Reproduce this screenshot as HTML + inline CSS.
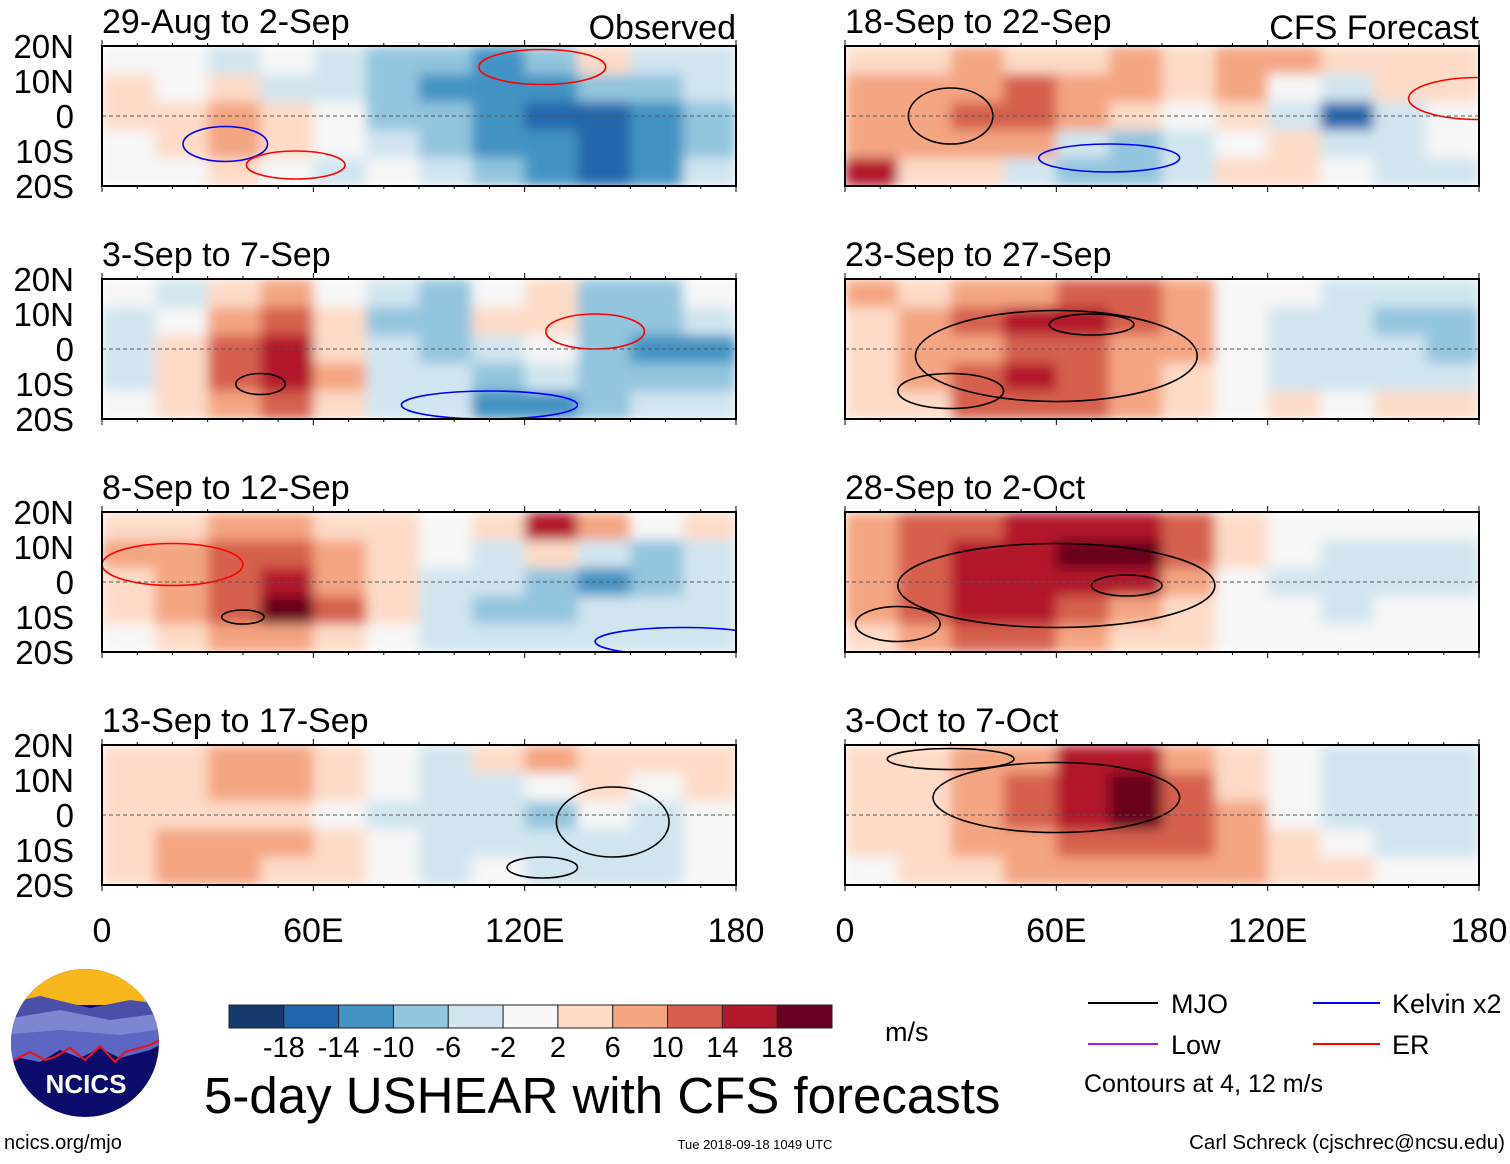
<!DOCTYPE html>
<html><head><meta charset="utf-8"><style>
body{margin:0;background:#fff;}
svg text{font-family:"Liberation Sans",sans-serif;}
</style></head><body>
<svg id="chart" width="1510" height="1159" viewBox="0 0 1510 1159" xmlns="http://www.w3.org/2000/svg">
<defs>
<filter id="bl" x="0" y="0" width="1" height="1"><feGaussianBlur stdDeviation="6" edgeMode="duplicate"/></filter>
</defs>
<g id="panels"></g>
<g id="logo">
<clipPath id="lc"><circle cx="85" cy="1043" r="74"/></clipPath>
<g clip-path="url(#lc)">
<rect x="0" y="960" width="170" height="170" fill="#0b0b6b"/>
<rect x="0" y="960" width="170" height="45" fill="#f7b61b"/>
<path d="M0 1005 L40 996 L90 1008 L130 1000 L170 1005 L170 1030 L0 1040Z" fill="#4a4fa8"/>
<path d="M0 1020 L60 1010 L110 1020 L170 1012 L170 1035 L0 1045Z" fill="#7d86d0"/>
<path d="M0 1035 L60 1030 L120 1035 L170 1028 L170 1040 L150 1050 L120 1058 L100 1048 L80 1058 L60 1050 L40 1062 L20 1058 L0 1062Z" fill="#5d66c3"/>
<path d="M10 1062 L30 1052 L45 1060 L55 1057 L70 1048 L85 1060 L100 1046 L115 1062 L125 1052 L150 1045 L170 1035" fill="none" stroke="#e11" stroke-width="2"/>
</g>
<text x="86" y="1093" font-size="26" font-weight="bold" fill="#fff" text-anchor="middle">NCICS</text>
</g>
<text x="4" y="1149" font-size="20">ncics.org/mjo</text>
<text x="755" y="1149" font-size="13" text-anchor="middle">Tue 2018-09-18 1049 UTC</text>
<text x="1505" y="1149" font-size="20.5" text-anchor="end">Carl Schreck (cjschrec@ncsu.edu)</text>
<text x="204" y="1113" font-size="51">5-day USHEAR with CFS forecasts</text>
<text x="885" y="1041" font-size="27">m/s</text>
<g id="cbar"></g>
<g>
<line x1="1088" y1="1003" x2="1158" y2="1003" stroke="#000" stroke-width="2"/><text x="1171" y="1013" font-size="27">MJO</text>
<line x1="1088" y1="1044" x2="1158" y2="1044" stroke="#a020f0" stroke-width="2"/><text x="1171" y="1054" font-size="27">Low</text>
<line x1="1313" y1="1003" x2="1380" y2="1003" stroke="#00f" stroke-width="2"/><text x="1392" y="1013" font-size="27">Kelvin x2</text>
<line x1="1313" y1="1044" x2="1380" y2="1044" stroke="#f00" stroke-width="2"/><text x="1392" y="1054" font-size="27">ER</text>
<text x="1084" y="1092" font-size="25">Contours at 4, 12 m/s</text>
</g>
</svg>
<script>
const panelTitles=["29-Aug to 2-Sep","3-Sep to 7-Sep","8-Sep to 12-Sep","13-Sep to 17-Sep","18-Sep to 22-Sep","23-Sep to 27-Sep","28-Sep to 2-Oct","3-Oct to 7-Oct"];
const latTicks=["20N","10N","0","10S","20S"];
const lonTicks=["0","60E","120E","180"];
const levels=[-18,-14,-10,-6,-2,2,6,10,14,18];
const colors=["#143a6c","#2166ac","#4393c3","#92c5de","#d1e5f0","#f7f7f7","#fddbc7","#f4a582","#d6604d","#b2182b","#67001f"];
const p0=[[2,0,-3,0,-4,-7,-8,-12,-7,3,-5,-4],[3,0,3,-3,-4,-8,-11,-11,-13,-8,-8,-5],[4,4,7,3,0,-6,-9,-12,-14,-14,-11,-8],[0,3,7,5,0,-3,-6,-10,-12,-14,-12,-8],[0,0,3,0,-3,0,-3,-8,-12,-14,-10,-5]];
const p1=[[0,-3,3,7,0,-3,-6,0,4,-6,-7,0],[-3,0,7,12,3,-6,-6,3,6,-6,-8,-5],[-3,3,12,17,5,-3,-8,-3,0,-7,-10,-10],[-3,5,12,18,8,-3,-5,-7,-5,-7,-8,-7],[0,3,7,13,3,-3,-3,-10,-12,-7,-5,-3]];
const p2=[[3,5,7,8,5,3,0,3,18,7,0,3],[7,10,12,14,10,5,0,-3,5,-5,-7,-3],[5,10,12,16,10,3,-3,-5,-7,-10,-7,-5],[3,7,14,19,12,3,-5,-7,-7,-5,-5,-3],[0,3,7,10,5,0,-3,-5,-3,-3,-3,-3]];
const p3=[[5,3,7,7,3,0,-3,3,7,5,3,5],[3,5,10,10,5,0,-3,-3,0,3,0,3],[5,3,5,5,0,-3,-3,-5,-8,0,-3,0],[3,7,10,7,5,0,-3,-3,-5,-3,-3,0],[3,7,10,5,3,0,-3,0,-3,-5,-3,0]];
const p4=[[5,3,7,5,3,7,3,7,7,5,3,3],[7,7,10,13,10,8,3,7,0,-3,3,3],[10,7,12,14,10,5,0,3,-5,-14,-5,0],[10,7,10,7,-5,-7,-3,0,5,-3,-3,0],[16,5,3,-3,-8,-8,-5,3,5,0,-3,-3]];
const p5=[[7,5,8,10,12,14,10,0,0,-3,-3,-5],[5,10,12,16,16,14,10,0,-3,-5,-8,-8],[3,7,10,14,12,10,7,0,-3,-5,-5,-8],[5,7,12,16,14,10,3,0,-3,-3,-3,-3],[5,5,12,14,12,7,3,0,3,0,5,3]];
const p6=[[10,12,14,16,16,16,12,3,0,0,0,0],[10,14,16,18,19,19,14,3,0,-3,-3,-3],[10,14,16,16,16,16,10,0,-3,-5,-5,-3],[7,14,18,16,12,10,5,0,0,-3,0,0],[3,7,12,12,7,5,3,0,0,0,0,0]];
const p7=[[5,5,7,10,16,16,10,3,0,-3,-3,-3],[3,5,10,14,18,19,14,3,0,-3,-5,-5],[3,5,7,12,16,19,14,7,0,-3,-5,-5],[3,5,7,10,12,14,14,10,5,0,-3,-3],[0,3,5,7,10,10,10,7,5,3,0,0]];
const panelData=[p0,p1,p2,p3,p4,p5,p6,p7];
// contours: panel index, center lon, center lat, lon radius, lat radius, type
const cPanel=[0,0,0,1,1,1,2,2,2,3,3,4,4,4,5,5,5,6,6,6,7,7];
const cLon=[125,35,55,140,45,110,40,20,165,145,125,30,180,75,60,70,30,60,80,15,60,30];
const cLat=[14,-8,-14,5,-10,-16,-10,5,-17,-2,-15,0,5,-12,-2,7,-12,-1,-1,-12,5,16];
const cRx=[18,12,14,14,7,25,6,20,25,16,10,12,20,20,40,12,15,45,10,12,35,18];
const cRy=[5,5,4,5,3,4,2,6,4,10,3,8,6,4,13,3,5,12,3,5,10,3];
const cType=["er","kelvin","er","er","mjo","kelvin","mjo","er","kelvin","mjo","mjo","mjo","er","kelvin","mjo","mjo","mjo","mjo","mjo","mjo","mjo","mjo"];
const cColor={mjo:"#000",kelvin:"#00f",er:"#f00",low:"#a020f0"};
const NS="http://www.w3.org/2000/svg";
function mk(t,a,par){const e=document.createElementNS(NS,t);for(const k in a)e.setAttribute(k,a[k]);par.appendChild(e);return e;}
function colorFor(v){let i=0;while(i<levels.length&&v>levels[i])i++;return colors[i];}
const W=634,H=140,colX=[102,845],rowY=[46,279,512,745];
function xs(lon,x0){return x0+lon/180*W;}
function ys(lat,y0){return y0+(20-lat)/40*H;}
const root=document.getElementById('panels');
const clips=[];
panelData.forEach((d,p)=>{
  const x0=colX[p<4?0:1],y0=rowY[p%4];
  const g=mk('g',{},root);
  
  
  const cp=mk('clipPath',{id:'c'+p},g);
  mk('rect',{x:x0,y:y0,width:W,height:H},cp);
  const cg=mk('g',{'clip-path':'url(#c'+p+')'},g);
  clips.push(cg);
  const hg=mk('g',{filter:'url(#bl)'},cg);
  const nr=d.length,nc=d[0].length;
  d.forEach((row,r)=>row.forEach((v,c)=>{
    const lat1=20-r*40/nr,lat2=20-(r+1)*40/nr,lon1=c*180/nc,lon2=(c+1)*180/nc;
    const e=mk('rect',{x:xs(lon1,x0),y:ys(lat1,y0),width:xs(lon2,x0)-xs(lon1,x0)+0.5,height:ys(lat2,y0)-ys(lat1,y0)+0.5,fill:colorFor(v)},hg);
    
    
  }));
  const eq=mk('line',{x1:x0,x2:x0+W,y1:ys(0,y0),y2:ys(0,y0),stroke:'#555','stroke-dasharray':'4 3','stroke-width':1},g);
  
  
  const fr=mk('rect',{x:x0,y:y0,width:W,height:H,fill:'none',stroke:'#000','stroke-width':2},g);
  
  
  for(let lon=0;lon<=180;lon+=10){const len=lon%60==0?6:3;
    mk('line',{x1:xs(lon,x0),x2:xs(lon,x0),y1:y0,y2:y0-len,stroke:'#000'},g);
    mk('line',{x1:xs(lon,x0),x2:xs(lon,x0),y1:y0+H,y2:y0+H+len,stroke:'#000'},g);}
  const t=mk('text',{x:x0,y:y0-13,'font-size':34},g);t.textContent=panelTitles[p];
  
  
  if(p==0||p==4){const s=mk('text',{x:x0+W,y:y0-7,'font-size':34,'text-anchor':'end'},g);s.textContent=p==0?'Observed':'CFS Forecast';
    
    }
  if(p<4){latTicks.forEach((l,i)=>{const yt=mk('text',{x:74,y:y0+i*H/4+12,'font-size':33,'text-anchor':'end'},g);yt.textContent=l;
    
    });}
});
cPanel.forEach((p,i)=>{
  const x0=colX[p<4?0:1],y0=rowY[p%4];
  const e=mk('ellipse',{cx:xs(cLon[i],x0),cy:ys(cLat[i],y0),rx:cRx[i]/180*W,ry:cRy[i]/40*H,fill:'none',stroke:cColor[cType[i]],'stroke-width':1.6},clips[p]);
  
  
});
colX.forEach(x0=>lonTicks.forEach((l,i)=>{const t=mk('text',{x:xs(i*60,x0),y:942,'font-size':34,'text-anchor':'middle'},root);t.textContent=l;
  
  }));
const cb=document.getElementById('cbar');const bx=229,bw=603/colors.length;
colors.forEach((c,i)=>{const r=mk('rect',{x:bx+i*bw,y:1005,width:bw,height:23,fill:c,stroke:'#222','stroke-width':1},cb);
  
  });
levels.forEach((l,i)=>{const t=mk('text',{x:bx+(i+1)*bw,y:1057,'font-size':29,'text-anchor':'middle'},cb);t.textContent=l;
  
  });
</script>
</body></html>
